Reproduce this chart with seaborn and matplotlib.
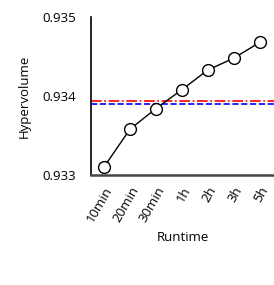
import matplotlib
matplotlib.use("Agg")
import matplotlib.pyplot as plt
import seaborn as sns
import pandas as pd

runtimes = ["10min", "20min", "30min", "1h", "2h", "3h", "5h"]
hypervolume = [0.93310, 0.93358, 0.93384, 0.93408, 0.93433, 0.93448, 0.93468]
ref_red = 0.93394
ref_blue = 0.93390
yticks = [0.933, 0.934, 0.935]

sns.set_style("white")
plt.rcParams["font.family"] = ["Open Sans", "DejaVu Sans"]
plt.rcParams["text.color"] = "black"
plt.rcParams["axes.labelcolor"] = "black"
plt.rcParams["xtick.color"] = "black"
plt.rcParams["ytick.color"] = "black"

df = pd.DataFrame({"Runtime": runtimes, "Hypervolume": hypervolume})

fig = plt.figure(figsize=(2.74, 2.85), dpi=100)
ax = fig.add_axes([0.332, 0.386, 0.668, 0.554])
sns.lineplot(data=df, x="Runtime", y="Hypervolume", sort=False, ax=ax,
             color="black", linewidth=1, marker="o", markersize=8.5,
             markerfacecolor="white", markeredgecolor="black", markeredgewidth=1)
ax.axhline(ref_red, color="red", linestyle="-.", linewidth=1.2, zorder=1)
ax.axhline(ref_blue, color="blue", linestyle="--", linewidth=1.2, zorder=1)

ax.set_xlim(-0.5, 6.55)
ax.set_ylim(0.933, 0.935)
ax.set_yticks(yticks)
ax.set_yticklabels([f"{v:.3f}" for v in yticks])
ax.tick_params(axis="both", length=0, labelsize=9.5)
ax.tick_params(axis="y", pad=11)
ax.tick_params(axis="x", pad=7)
plt.setp(ax.get_xticklabels(), rotation=60, ha="right", rotation_mode="anchor")
ax.set_xlabel("Runtime", fontsize=9.5, labelpad=4)
ax.set_ylabel("Hypervolume", fontsize=9.5, labelpad=8)
for s in ["top", "right"]:
    ax.spines[s].set_visible(False)
ax.spines["left"].set_color("black")
ax.spines["left"].set_linewidth(1.2)
ax.spines["bottom"].set_color("#444444")
ax.spines["bottom"].set_linewidth(1.8)

fig.savefig("out.png", dpi=100)
